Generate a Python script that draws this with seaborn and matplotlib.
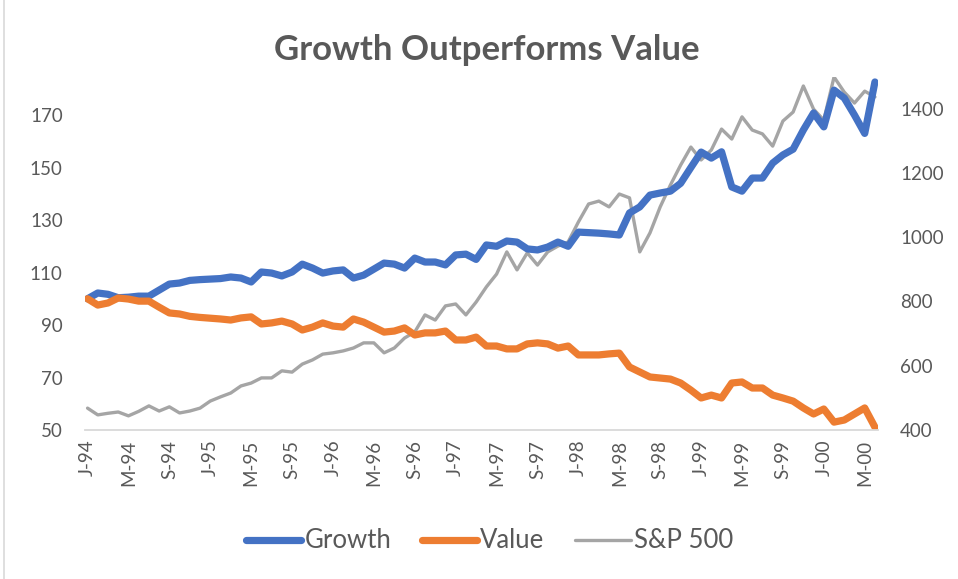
import matplotlib
matplotlib.use("Agg")
import matplotlib.pyplot as plt
import seaborn as sns
import pandas as pd
import numpy as np

growth = [100.0, 102.2, 101.7, 100.4, 100.6, 101.0, 101.0, 103.3, 105.6, 106.0,
          107.0, 107.3, 107.5, 107.7, 108.3, 107.9, 106.4, 110.2, 109.8, 108.7,
          110.2, 113.2, 111.7, 109.8, 110.6, 111.0, 107.9, 109.0, 111.3, 113.6,
          113.2, 111.7, 115.5, 114.0, 114.0, 112.9, 116.7, 117.0, 115.0, 120.5,
          120.0, 122.0, 121.6, 119.0, 118.6, 119.7, 121.6, 120.0, 125.4, 125.2,
          125.0, 124.7, 124.3, 132.7, 135.0, 139.5, 140.3, 141.0, 144.0, 150.0,
          155.9, 153.6, 156.0, 142.6, 141.0, 146.0, 146.0, 151.7, 154.8, 157.0,
          164.3, 170.8, 165.5, 179.5, 176.5, 170.0, 163.0, 182.6]

value = [100.0, 97.6, 98.4, 100.3, 99.9, 99.1, 99.1, 96.8, 94.6, 94.2,
         93.3, 92.9, 92.6, 92.3, 91.9, 92.7, 93.1, 90.4, 90.8, 91.5,
         90.4, 88.1, 89.2, 90.8, 89.6, 89.2, 92.3, 91.1, 89.2, 87.3,
         87.7, 88.9, 86.2, 87.0, 87.0, 87.7, 84.3, 84.3, 85.4, 82.0,
         82.0, 80.9, 80.9, 82.8, 83.2, 82.8, 81.2, 82.0, 78.6, 78.6,
         78.6, 79.0, 79.3, 74.0, 72.1, 70.2, 69.8, 69.4, 67.9, 65.2,
         62.2, 63.3, 62.2, 67.9, 68.3, 66.0, 66.0, 63.3, 62.2, 61.0,
         58.4, 56.1, 58.0, 53.0, 53.8, 56.1, 58.4, 51.1]

sp500 = [468, 447, 452, 456, 444, 458, 475, 459, 472, 453,
         459, 468, 490, 503, 515, 537, 546, 562, 562, 584,
         580, 605, 618, 636, 640, 646, 655, 671, 671, 640,
         655, 686, 705, 758, 742, 786, 792, 758, 798, 845,
         885, 954, 898, 951, 913, 954, 972, 985, 1047, 1103,
         1112, 1094, 1134, 1122, 954, 1013, 1094, 1162, 1224, 1280,
         1240, 1271, 1336, 1305, 1374, 1333, 1321, 1283, 1361, 1389,
         1470, 1398, 1364, 1498, 1451, 1417, 1454, 1436]

tick_labels = ['J-94', 'M-94', 'S-94', 'J-95', 'M-95', 'S-95', 'J-96', 'M-96',
               'S-96', 'J-97', 'M-97', 'S-97', 'J-98', 'M-98', 'S-98', 'J-99',
               'M-99', 'S-99', 'J-00', 'M-00']
left_ticks = [50, 70, 90, 110, 130, 150, 170]
right_ticks = [400, 600, 800, 1000, 1200, 1400]

sns.set_theme(style="white")
plt.rcParams['font.family'] = ['Lato', 'DejaVu Sans']

TXT = '#595959'
C_BLUE = '#4472C4'
C_ORANGE = '#ED7D31'
C_GRAY = '#A5A5A5'

idx = np.arange(len(growth))
df = pd.DataFrame({'idx': idx, 'Growth': growth, 'Value': value, 'S&P 500': sp500})

fig = plt.figure(figsize=(9.58, 5.79), dpi=100)
fig.patch.set_facecolor('white')
ax = fig.add_axes([85/958, 1-430/579, (878-85)/958, (430-77)/579])
ax2 = ax.twinx()

sns.lineplot(data=df, x='idx', y='Growth', ax=ax, color=C_BLUE, linewidth=5.2,
             solid_capstyle='round', solid_joinstyle='round', label='Growth', legend=False)
sns.lineplot(data=df, x='idx', y='Value', ax=ax, color=C_ORANGE, linewidth=5.2,
             solid_capstyle='round', solid_joinstyle='round', label='Value', legend=False)
sns.lineplot(data=df, x='idx', y='S&P 500', ax=ax2, color=C_GRAY, linewidth=2.4,
             solid_capstyle='round', solid_joinstyle='round', label='S&P 500', legend=False)

ax.set_xlim(-0.25, len(growth) - 0.7)
ax.set_ylim(50, 184.5)
ax2.set_ylim(400, 1498)

ax.set_yticks(left_ticks)
ax.set_yticklabels([str(v) for v in left_ticks])
ax2.set_yticks(right_ticks)
ax2.set_yticklabels([str(v) for v in right_ticks])
ax.set_xticks(np.arange(0, len(growth), 4)[:len(tick_labels)])
ax.set_xticklabels(tick_labels, rotation=90)

for a in (ax, ax2):
    a.set_xlabel('')
    a.set_ylabel('')
    for s in a.spines.values():
        s.set_visible(False)
    a.grid(False)
    a.set_facecolor('none')
ax.spines['bottom'].set_visible(True)
ax.spines['bottom'].set_color('#D9D9D9')
ax.spines['bottom'].set_linewidth(1.3)

ax.tick_params(axis='y', length=0, pad=16, labelsize=13.5, labelcolor=TXT)
ax.tick_params(axis='x', length=0, pad=7, labelsize=13.5, labelcolor=TXT)
ax2.tick_params(axis='y', length=0, pad=16, labelsize=13.5, labelcolor=TXT)
ax.set_zorder(ax2.get_zorder() + 1)

fig.text(0.508, 1-50/579, 'Growth Outperforms Value', ha='center', va='center',
         fontsize=25, fontweight='bold', color=TXT)

h1, l1 = ax.get_legend_handles_labels()
h2, l2 = ax2.get_legend_handles_labels()
leg = fig.legend(h1 + h2, l1 + l2, loc='center', bbox_to_anchor=(0.511, 1-541/579),
                 ncol=3, frameon=False, fontsize=18.5, handlelength=2.15,
                 handletextpad=0.12, columnspacing=1.2, labelcolor=TXT)

fig.add_artist(plt.Line2D([4/958, 4/958], [0, 1], transform=fig.transFigure,
                          color='#D9D9D9', linewidth=1.2))

fig.savefig('out.png', dpi=100, facecolor='white')
